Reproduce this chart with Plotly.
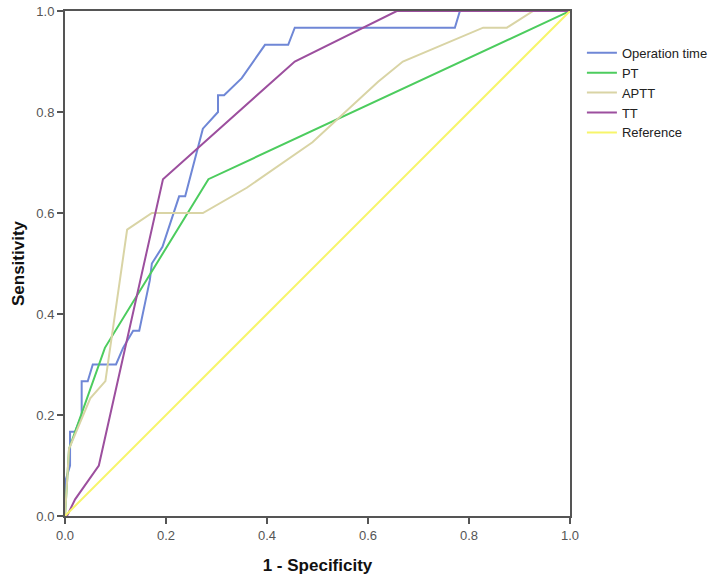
import plotly.graph_objects as go

# ROC curves (1 - Specificity, Sensitivity)
op_x = [0, 0, 0.01, 0.01, 0.02, 0.033, 0.033, 0.045, 0.055, 0.101, 0.115, 0.135, 0.147, 0.168, 0.172,
        0.193, 0.226, 0.238, 0.273, 0.303, 0.303, 0.315, 0.35, 0.396, 0.442, 0.455, 0.772, 0.782, 1.0]
op_y = [0, 0.067, 0.10, 0.167, 0.167, 0.20, 0.267, 0.267, 0.30, 0.30, 0.333, 0.367, 0.367, 0.467, 0.50,
        0.533, 0.633, 0.633, 0.767, 0.80, 0.833, 0.833, 0.867, 0.933, 0.933, 0.967, 0.967, 1.0, 1.0]

pt_x = [0, 0.008, 0.079, 0.284, 1.0]
pt_y = [0, 0.133, 0.333, 0.667, 1.0]

aptt_x = [0, 0.008, 0.05, 0.08, 0.123, 0.172, 0.273, 0.36, 0.49, 0.62, 0.669, 0.828, 0.875, 0.927, 1.0]
aptt_y = [0, 0.133, 0.233, 0.267, 0.567, 0.60, 0.60, 0.65, 0.74, 0.86, 0.90, 0.967, 0.967, 1.0, 1.0]

tt_x = [0, 0.004, 0.02, 0.067, 0.194, 0.455, 0.657, 1.0]
tt_y = [0, 0, 0.033, 0.10, 0.667, 0.90, 1.0, 1.0]

ref_x = [0, 1.0]
ref_y = [0, 1.0]

series = [
    ("Operation time", op_x, op_y, "#6f87d6"),
    ("PT", pt_x, pt_y, "#4ccc5e"),
    ("APTT", aptt_x, aptt_y, "#d9d4a5"),
    ("TT", tt_x, tt_y, "#9c4f9e"),
    ("Reference", ref_x, ref_y, "#f7f56a"),
]

ticks = [0.0, 0.2, 0.4, 0.6, 0.8, 1.0]
tick_text = ["0.0", "0.2", "0.4", "0.6", "0.8", "1.0"]

fig = go.Figure()
for name, xs, ys, col in series:
    fig.add_trace(go.Scatter(x=xs, y=ys, mode="lines", name=name,
                             line=dict(color=col, width=2)))

axis_common = dict(
    range=[0, 1], tickvals=ticks, ticktext=tick_text,
    showgrid=False, zeroline=False, automargin=False,
    showline=True, linecolor="#555555", linewidth=2, mirror=True,
    ticks="outside", ticklen=6, tickwidth=2, tickcolor="#555555",
    tickfont=dict(family="Liberation Sans, Arial, sans-serif", size=13, color="#555555"),
)

fig.update_layout(
    width=714, height=582,
    margin=dict(l=65, r=144, t=11, b=66),
    paper_bgcolor="white", plot_bgcolor="white",
    font=dict(family="Liberation Sans, Arial, sans-serif"),
    xaxis=dict(**axis_common,
               title=dict(text="<b>1 - Specificity</b>", standoff=18,
                          font=dict(size=17, color="#111111"))),
    yaxis=dict(**axis_common,
               title=dict(text="<b>Sensitivity</b>", standoff=7,
                          font=dict(size=17, color="#111111"))),
    legend=dict(xref="container", yref="container", x=0.815, y=0.935,
                xanchor="left", yanchor="top",
                font=dict(size=13, color="#222222"),
                bgcolor="rgba(0,0,0,0)", tracegroupgap=0, itemwidth=30),
    showlegend=True,
)

fig.write_html("out.html",
               config={"displayModeBar": False},
               post_script="document.body.style.margin='0';document.body.style.overflow='hidden';")
